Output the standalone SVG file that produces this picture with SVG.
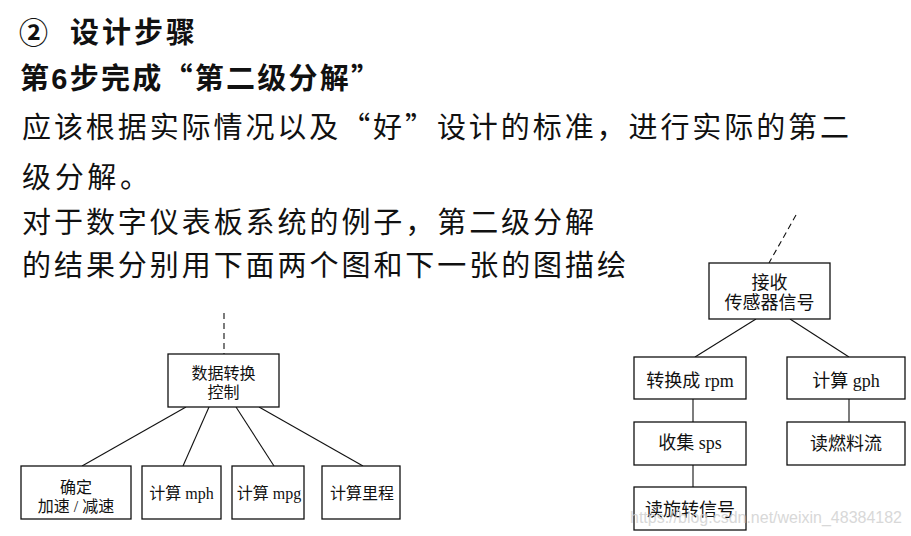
<svg xmlns="http://www.w3.org/2000/svg" width="911" height="536" viewBox="0 0 911 536">
<style>
.h{font-family:"Noto Sans CJK SC","Liberation Sans",sans-serif;font-weight:bold;font-size:29px;fill:#111}
.p{font-family:"Noto Sans CJK SC","Liberation Serif",serif;font-size:29px;fill:#111}
.box{fill:#fff;stroke:#111;stroke-width:1.3}
.ln{stroke:#111;stroke-width:1.1;fill:none}
.dash{stroke:#111;stroke-width:1.1;stroke-dasharray:6 4;fill:none}
.t{font-family:"Liberation Serif","Noto Sans CJK SC",serif;font-size:16px;fill:#111;text-anchor:middle}
.t2{font-family:"Liberation Serif","Noto Sans CJK SC",serif;font-size:18px;fill:#111;text-anchor:middle}
.wm{font-family:"Liberation Sans",sans-serif;font-size:17px;fill:#cfcfcf;opacity:0.8}
</style>
<rect width="911" height="536" fill="#fff"/>
<g id="text">
<text class="h" x="19" y="44" font-size="31" font-weight="normal">②</text>
<text class="h" x="70" y="43" textLength="125" lengthAdjust="spacing">设计步骤</text>
<text class="h" x="20" y="89" textLength="360" lengthAdjust="spacing">第<tspan font-family="Liberation Sans">6</tspan>步完成“第二级分解”</text>
<text class="p" x="22" y="138" textLength="827" lengthAdjust="spacing">应该根据实际情况以及“好”设计的标准，进行实际的第二</text>
<text class="p" x="22" y="188" textLength="127" lengthAdjust="spacing">级分解。</text>
<text class="p" x="22" y="233" textLength="572" lengthAdjust="spacing">对于数字仪表板系统的例子，第二级分解</text>
<text class="p" x="22" y="276" textLength="604" lengthAdjust="spacing">的结果分别用下面两个图和下一张的图描绘</text>
</g>
<g id="connectors">
<line class="dash" x1="224" y1="313" x2="224" y2="354"/>
<line class="ln" x1="186" y1="407" x2="82" y2="466"/>
<line class="ln" x1="209" y1="407" x2="183" y2="466"/>
<line class="ln" x1="236" y1="407" x2="274" y2="466"/>
<line class="ln" x1="259" y1="407" x2="363" y2="466"/>
<line class="dash" x1="796" y1="215" x2="769" y2="263"/>
<line class="ln" x1="756" y1="319" x2="695" y2="357"/>
<line class="ln" x1="790" y1="319" x2="849" y2="357"/>
<line class="ln" x1="693" y1="399" x2="693" y2="422"/>
<line class="ln" x1="693" y1="465" x2="693" y2="487"/>
<line class="ln" x1="849" y1="399" x2="849" y2="422"/>
</g>
<g id="n-data">
<rect class="box" x="168" y="354" width="111" height="53"/>
<text class="t" x="223.5" y="379">数据转换</text>
<text class="t" x="223.5" y="398">控制</text>
</g>
<g id="n-accel">
<rect class="box" x="21" y="466" width="110" height="53"/>
<text class="t" x="76" y="493">确定</text>
<text class="t" x="76" y="512">加速 / 减速</text>
</g>
<g id="n-mph">
<rect class="box" x="142" y="466" width="79" height="53"/>
<text class="t" x="181.5" y="499">计算 mph</text>
</g>
<g id="n-mpg">
<rect class="box" x="232" y="466" width="72" height="53"/>
<text class="t" x="269" y="499">计算 mpg</text>
</g>
<g id="n-mileage">
<rect class="box" x="322" y="466" width="78" height="53"/>
<text class="t" x="362" y="499">计算里程</text>
</g>
<g id="n-recv">
<rect class="box" x="709" y="263" width="121" height="56"/>
<text class="t2" x="769.5" y="289">接收</text>
<text class="t2" x="769.5" y="309">传感器信号</text>
</g>
<g id="n-rpm">
<rect class="box" x="634" y="357" width="112" height="42"/>
<text class="t2" x="690" y="387">转换成 rpm</text>
</g>
<g id="n-gph">
<rect class="box" x="787" y="357" width="118" height="42"/>
<text class="t2" x="846" y="387">计算 gph</text>
</g>
<g id="n-sps">
<rect class="box" x="634" y="422" width="112" height="43"/>
<text class="t2" x="690" y="449">收集 sps</text>
</g>
<g id="n-fuel">
<rect class="box" x="787" y="422" width="118" height="43"/>
<text class="t2" x="846" y="450">读燃料流</text>
</g>
<g id="n-rot">
<rect class="box" x="634" y="487" width="112" height="43"/>
<text class="t2" x="690" y="516">读旋转信号</text>
</g>
<text class="wm" x="630" y="523" textLength="272" lengthAdjust="spacingAndGlyphs">https://blog.csdn.net/weixin_48384182</text>
</svg>
